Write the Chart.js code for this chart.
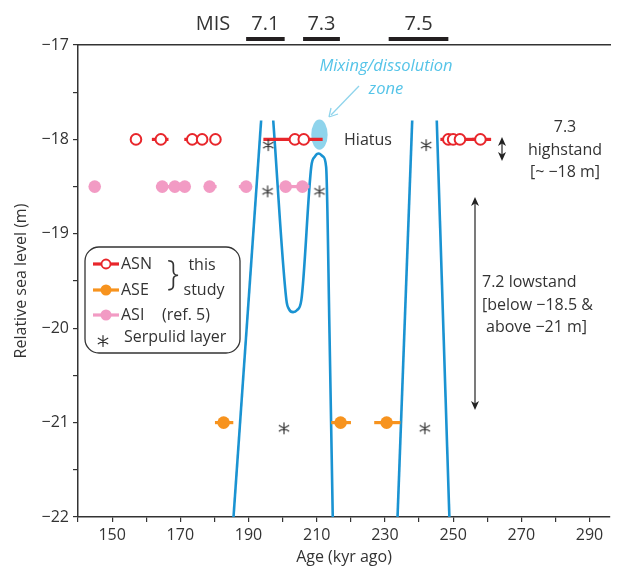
<!DOCTYPE html>
<html>
<head>
<meta charset="utf-8">
<script src="https://cdn.jsdelivr.net/npm/chart.js@4.4.1/dist/chart.umd.min.js"></script>
<style>
  body { margin: 0; background: #fff; }
  #wrap { width: 618px; height: 567px; position: relative; }
</style>
</head>
<body>
<div id="wrap"><canvas id="chart"></canvas></div>
<script>
// axis ticks
const xTicks = [140, 150, 160, 170, 180, 190, 200, 210, 220, 230, 240, 250, 260, 270, 280, 290];
const xLabels = [150, 170, 190, 210, 230, 250, 270, 290];
const yTicks = [-22, -21.5, -21, -20.5, -20, -19.5, -19, -18.5, -18, -17.5, -17];
const yLabels = [-22, -21, -20, -19, -18, -17];

// ASN (this study), open red circles
const asnAge = [157.0, 164.3, 173.5, 176.4, 180.3, 203.6, 206.2, 248.6, 250.0, 252.0, 258.0];
const asnLevel = [-18, -18, -18, -18, -18, -18, -18, -18, -18, -18, -18];
const asnLo = [157.0, 162.1, 171.6, 176.4, 180.3, 194.8, 206.2, 246.7, 248.6, 250.0, 256.0];
const asnHi = [157.0, 166.1, 175.4, 176.4, 180.3, 211.3, 206.2, 249.8, 251.2, 258.0, 260.7];

// ASE (this study), orange
const aseAge = [182.7, 217.0, 230.5];
const aseLevel = [-21, -21, -21];
const aseLo = [180.6, 214.7, 227.3];
const aseHi = [185.1, 219.6, 234.1];

// ASI (ref. 5), pink
const asiAge = [144.9, 164.7, 168.4, 171.3, 178.6, 189.3, 200.9, 205.8];
const asiLevel = [-18.5, -18.5, -18.5, -18.5, -18.5, -18.5, -18.5, -18.5];
const asiLo = [144.9, 163.3, 166.5, 171.3, 178.6, 187.6, 199.6, 205.8];
const asiHi = [144.9, 166.5, 170.0, 171.3, 180.2, 189.3, 205.8, 207.4];

// serpulid layers
const serpAge = [195.8, 195.6, 210.8, 242.1, 200.4, 241.7];
const serpLevel = [-18.06, -18.55, -18.55, -18.06, -21.06, -21.06];

// sea-level curve, four visible pieces
const curve1Age = [185.6, 193.7];
const curve1Level = [-22, -17.8];
const curve2Age = [197.25, 201.1, 201.9, 203.07, 204.2, 205.5, 208.4, 209.5, 210.6, 211.8, 212.76, 213.75, 214.7];
const curve2Level = [-17.8, -19.70, -19.80, -19.83, -19.81, -19.70, -18.29, -18.18, -18.15, -18.18, -18.29, -20.05, -22];
const curve3Age = [233.7, 238.0];
const curve3Level = [-22, -17.8];
const curve4Age = [245.2, 248.9];
const curve4Level = [-17.8, -22];

// mixing/dissolution zone extent
const mixAge = [208.4, 213.2];
const mixLevel = [-17.79, -18.11];

// MIS stages
const misLabels = ['7.1', '7.3', '7.5'];
const misStart = [189.3, 206.0, 231.1];
const misEnd = [200.6, 216.8, 248.6];

const FONT = "'Open Sans', 'Noto Sans', sans-serif";
const INK = '#333333';
const BLUE = '#1a93d2';
const RED = '#e8262b';
const ORANGE = '#f7931e';
const PINK = '#f29bc4';

// six-armed asterisk marker
function makeAsterisk(size, r) {
  const c = document.createElement('canvas');
  c.width = size;
  c.height = size;
  const g = c.getContext('2d');
  g.strokeStyle = INK;
  g.lineWidth = 1.2;
  g.lineCap = 'round';
  g.beginPath();
  [90, 30, 150].forEach(d => {
    const a = d * Math.PI / 180;
    g.moveTo(size / 2 - r * Math.cos(a), size / 2 - r * Math.sin(a));
    g.lineTo(size / 2 + r * Math.cos(a), size / 2 + r * Math.sin(a));
  });
  g.stroke();
  return c;
}
const asterisk = makeAsterisk(14, 5.5);

function pts(xs, ys) {
  return xs.map((x, i) => ({ x: x, y: ys[i] }));
}

function curveSet(xs, ys, smooth) {
  return {
    data: pts(xs, ys),
    showLine: true,
    borderColor: BLUE,
    borderWidth: 2.6,
    pointRadius: 0,
    fill: false,
    cubicInterpolationMode: smooth ? 'monotone' : 'default',
    order: 10
  };
}

const datasets = [
  curveSet(curve1Age, curve1Level, false),
  curveSet(curve2Age, curve2Level, true),
  curveSet(curve3Age, curve3Level, false),
  curveSet(curve4Age, curve4Level, false),
  {
    label: 'ASI', data: pts(asiAge, asiLevel), errLo: asiLo, errHi: asiHi, errColor: PINK,
    pointRadius: 6.3, backgroundColor: PINK, borderColor: PINK, borderWidth: 0, order: 3
  },
  {
    label: 'ASE', data: pts(aseAge, aseLevel), errLo: aseLo, errHi: aseHi, errColor: ORANGE,
    pointRadius: 6.3, backgroundColor: ORANGE, borderColor: ORANGE, borderWidth: 0, order: 3
  },
  {
    label: 'ASN', data: pts(asnAge, asnLevel), errLo: asnLo, errHi: asnHi, errColor: RED,
    pointRadius: 5.3, backgroundColor: '#fff', borderColor: RED, borderWidth: 2, order: 2
  },
  {
    label: 'Serpulid', data: pts(serpAge, serpLevel),
    pointStyle: asterisk, pointRadius: 7, order: 1
  }
];

// horizontal error bars, drawn just under each dataset's markers
const errorBars = {
  id: 'errorBars',
  beforeDatasetDraw(chart, args) {
    const ds = chart.data.datasets[args.index];
    if (!ds.errLo) return;
    const ctx = chart.ctx;
    const x = chart.scales.x, y = chart.scales.y;
    ctx.save();
    ctx.strokeStyle = ds.errColor;
    ctx.lineWidth = 3.2;
    ds.data.forEach((p, i) => {
      const py = y.getPixelForValue(p.y);
      ctx.beginPath();
      ctx.moveTo(x.getPixelForValue(ds.errLo[i]) - 1.5, py);
      ctx.lineTo(x.getPixelForValue(ds.errHi[i]) + 1.5, py);
      ctx.stroke();
    });
    ctx.restore();
  }
};

const mixZone = {
  id: 'mixZone',
  beforeDatasetsDraw(chart) {
    const ctx = chart.ctx;
    const x = chart.scales.x, y = chart.scales.y;
    const x0 = x.getPixelForValue(mixAge[0]), x1 = x.getPixelForValue(mixAge[1]);
    const y0 = y.getPixelForValue(mixLevel[0]), y1 = y.getPixelForValue(mixLevel[1]);
    ctx.save();
    ctx.fillStyle = '#8fd4ec';
    ctx.beginPath();
    ctx.ellipse((x0 + x1) / 2, (y0 + y1) / 2, Math.abs(x1 - x0) / 2, Math.abs(y1 - y0) / 2, 0, 0, Math.PI * 2);
    ctx.fill();
    ctx.restore();
  }
};

function text(ctx, s, x, y, size, align, color, style) {
  ctx.font = (style || '') + ' ' + size + 'px ' + FONT;
  ctx.fillStyle = color || INK;
  ctx.textAlign = align || 'center';
  ctx.textBaseline = 'middle';
  ctx.fillText(s, x, y);
}

function arrowHead(ctx, x, y, dir, color) {
  ctx.fillStyle = color;
  ctx.beginPath();
  ctx.moveTo(x, y);
  ctx.lineTo(x - 4, y - dir * 9);
  ctx.lineTo(x, y - dir * 6.5);
  ctx.lineTo(x + 4, y - dir * 9);
  ctx.closePath();
  ctx.fill();
}

function vArrow(ctx, x, yTop, yBot) {
  ctx.strokeStyle = INK;
  ctx.lineWidth = 1.3;
  ctx.beginPath();
  ctx.moveTo(x, yTop + 4);
  ctx.lineTo(x, yBot - 4);
  ctx.stroke();
  arrowHead(ctx, x, yTop, -1, '#222');
  arrowHead(ctx, x, yBot, 1, '#222');
}

const notes = {
  id: 'notes',
  afterDraw(chart) {
    const ctx = chart.ctx;
    const x = chart.scales.x;
    ctx.save();

    // MIS stage bars
    text(ctx, 'MIS', 213, 24, 20);
    misLabels.forEach((lab, i) => {
      const a = x.getPixelForValue(misStart[i]), b = x.getPixelForValue(misEnd[i]);
      ctx.fillStyle = '#231f20';
      ctx.fillRect(a, 37, b - a, 4);
      text(ctx, lab, (a + b) / 2, 24, 20);
    });

    // mixing zone label and arrow
    text(ctx, 'Mixing/dissolution', 386, 66, 16.5, 'center', '#55c4e8', 'italic');
    text(ctx, 'zone', 386, 89, 16.5, 'center', '#55c4e8', 'italic');
    ctx.strokeStyle = '#8fd4ec';
    ctx.lineWidth = 1.3;
    ctx.beginPath();
    ctx.moveTo(359, 86);
    ctx.lineTo(331, 115);
    ctx.stroke();
    ctx.beginPath();
    ctx.moveTo(329, 117);
    ctx.lineTo(331, 108);
    ctx.moveTo(329, 117);
    ctx.lineTo(338, 114);
    ctx.stroke();

    text(ctx, 'Hiatus', 368, 140, 16);

    // highstand
    vArrow(ctx, 502, 137, 161);
    text(ctx, '7.3', 565, 127, 16);
    text(ctx, 'highstand', 565, 150, 16);
    text(ctx, '[~ \u221218 m]', 565, 172, 16);

    // lowstand
    vArrow(ctx, 475, 197, 410);
    text(ctx, '7.2 lowstand', 482, 282, 16, 'left');
    text(ctx, '[below \u221218.5 &', 482, 305, 16, 'left');
    text(ctx, 'above \u221221 m]', 486, 327, 16, 'left');

    // legend box
    ctx.strokeStyle = INK;
    ctx.lineWidth = 1.3;
    ctx.beginPath();
    ctx.roundRect(85, 247, 155, 106, 14);
    ctx.stroke();

    const rows = [
      { c: RED, y: 264, lab: 'ASN', open: true },
      { c: ORANGE, y: 290, lab: 'ASE' },
      { c: PINK, y: 315, lab: 'ASI' }
    ];
    rows.forEach(r => {
      ctx.strokeStyle = r.c;
      ctx.lineWidth = 3.2;
      ctx.beginPath();
      ctx.moveTo(93, r.y);
      ctx.lineTo(119, r.y);
      ctx.stroke();
      ctx.beginPath();
      ctx.arc(106, r.y, r.open ? 4.5 : 5.5, 0, Math.PI * 2);
      if (r.open) {
        ctx.fillStyle = '#fff';
        ctx.fill();
        ctx.lineWidth = 1.8;
        ctx.stroke();
      } else {
        ctx.fillStyle = r.c;
        ctx.fill();
      }
      text(ctx, r.lab, 121, r.y, 16, 'left');
    });
    text(ctx, '}', 173, 275, 34, 'center', INK, '300');
    text(ctx, 'this', 202, 265, 16);
    text(ctx, 'study', 204, 290, 16);
    text(ctx, '(ref. 5)', 162, 315, 16, 'left');

    ctx.drawImage(asterisk, 96, 334);
    text(ctx, 'Serpulid layer', 124, 337, 16, 'left');

    ctx.restore();
  }
};

new Chart(document.getElementById('chart'), {
  type: 'scatter',
  data: { datasets: datasets },
  plugins: [mixZone, errorBars, notes],
  options: {
    responsive: true,
    maintainAspectRatio: false,
    animation: false,
    events: [],
    layout: { padding: { top: 45, right: 3, left: 0, bottom: 0 } },
    plugins: { legend: { display: false }, tooltip: { enabled: false } },
    scales: {
      x: {
        type: 'linear',
        min: 140,
        max: 296,
        afterBuildTicks: s => { s.ticks = xTicks.map(v => ({ value: v })); },
        afterFit: s => { s.height = 50; },
        ticks: {
          autoSkip: false,
          maxRotation: 0,
          padding: 4,
          color: INK,
          font: { family: FONT, size: 16 },
          callback: v => xLabels.includes(v) ? String(v) : ''
        },
        grid: { drawOnChartArea: false, tickLength: 5, color: INK, lineWidth: 1.2 },
        border: { color: INK, width: 1.5 },
        title: {
          display: true,
          text: 'Age (kyr ago)',
          color: INK,
          font: { family: FONT, size: 16 },
          padding: { top: 0, bottom: 0 }
        }
      },
      x2: {
        type: 'linear',
        position: 'top',
        min: 140,
        max: 296,
        afterFit: s => { s.height = 0; },
        ticks: { display: false },
        grid: { drawOnChartArea: false, drawTicks: false },
        border: { color: INK, width: 1.5 }
      },
      y: {
        type: 'linear',
        min: -22,
        max: -17,
        afterBuildTicks: s => { s.ticks = yTicks.map(v => ({ value: v })); },
        afterFit: s => { s.width = 78; },
        ticks: {
          autoSkip: false,
          padding: 4,
          color: INK,
          font: { family: FONT, size: 16 },
          callback: v => yLabels.includes(v) ? '\u2212' + Math.abs(v) : ''
        },
        grid: { drawOnChartArea: false, tickLength: 5, color: INK, lineWidth: 1.2 },
        border: { color: INK, width: 1.5 },
        title: {
          display: true,
          text: 'Relative sea level (m)',
          color: INK,
          font: { family: FONT, size: 16 },
          padding: { top: 12, bottom: 0 }
        }
      }
    }
  }
});
</script>
</body>
</html>
